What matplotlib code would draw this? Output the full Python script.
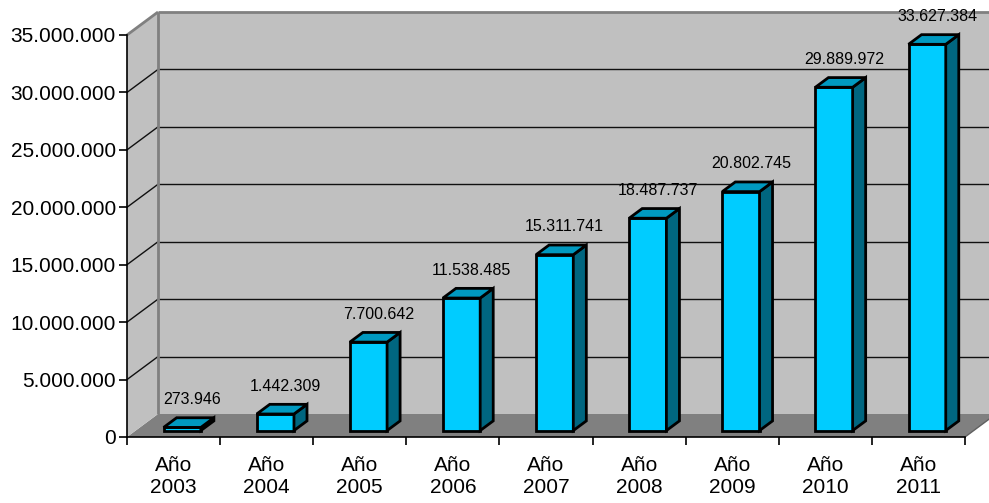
import matplotlib
matplotlib.use("agg")
import matplotlib.pyplot as plt
from matplotlib.patches import Polygon
from matplotlib.ticker import FuncFormatter

years = ["2003", "2004", "2005", "2006", "2007", "2008", "2009", "2010", "2011"]
values = [273946, 1442309, 7700642, 11538485, 15311741, 18487737, 20802745, 29889972, 33627384]
y_ticks = [0, 5000000, 10000000, 15000000, 20000000, 25000000, 30000000, 35000000]

def fmt(v, pos=None):
    return "{:,.0f}".format(v).replace(",", ".")

plt.rcParams['font.family'] = ['Liberation Sans', 'DejaVu Sans']

fig = plt.figure(figsize=(9.89, 5.03), dpi=100)
ax = fig.add_axes([127/989, 66/503, 838/989, 402/503])
ymax = y_ticks[-1]
n = len(years)
ax.set_xlim(0, n)
ax.set_ylim(0, ymax)
ax.patch.set_visible(False)

# depth of the 3d box in data units
DX = 0.333
DY = ymax * 23 / 402.0

def poly(pts, fc, ec="none", lw=0, z=1):
    ax.add_patch(Polygon(pts, closed=True, facecolor=fc, edgecolor=ec,
                         linewidth=lw, clip_on=False, zorder=z, joinstyle="miter"))

# walls and floor
poly([(0, 0), (n, 0), (n + DX, DY), (DX, DY)], "#808080", z=0)
poly([(DX, DY), (n + DX, DY), (n + DX, ymax + DY), (DX, ymax + DY)], "#c0c0c0", z=0)
poly([(0, 0), (DX, DY), (DX, ymax + DY), (0, ymax)], "#c0c0c0", z=0)

for y in y_ticks[1:-1]:
    ax.plot([DX, n + DX], [y + DY, y + DY], color="#101010", lw=1, clip_on=False, zorder=0.5)
    ax.plot([0, DX], [y, y + DY], color="#101010", lw=1, clip_on=False, zorder=0.5)

wall = dict(color="#808080", lw=2, clip_on=False, zorder=0.6, solid_capstyle="butt")
ax.plot([0, DX], [ymax, ymax + DY], **wall)
ax.plot([DX, n + DX], [ymax + DY, ymax + DY], **wall)
ax.plot([DX, DX], [DY, ymax + DY], **wall)
ax.plot([n, n + DX], [0, DY], color="#606060", lw=1, clip_on=False, zorder=0.6)

# bars
w = 0.4
t0, t1 = 0.28, 0.70
dt = t1 - t0
for i, v in enumerate(values):
    xl = i + 0.5 - w / 2 + t0 * DX
    xr = xl + w
    yb = t0 * DY
    yt = v + t0 * DY
    ox, oy = dt * DX, dt * DY
    poly([(xl, yb), (xr, yb), (xr, yt), (xl, yt)], "#00ccff", "black", 2, z=3)
    poly([(xr, yb), (xr + ox, yb + oy), (xr + ox, yt + oy), (xr, yt)], "#006680", "black", 2, z=3)
    poly([(xl, yt), (xr, yt), (xr + ox, yt + oy), (xl + ox, yt + oy)], "#0099c0", "black", 2, z=3)
    ax.annotate(fmt(v), (i + 0.5 + 0.2, v + t1 * DY), xytext=(0, 13),
                textcoords="offset points", ha="center", va="center",
                fontsize=11.5, color="black", zorder=4, annotation_clip=False)

for s in ["top", "right"]:
    ax.spines[s].set_visible(False)
for s in ["left", "bottom"]:
    ax.spines[s].set_color("black")
    ax.spines[s].set_linewidth(1.2)
    ax.spines[s].set_zorder(5)

ax.set_yticks(y_ticks)
ax.yaxis.set_major_formatter(FuncFormatter(fmt))
ax.tick_params(axis="y", direction="out", length=6, width=1.2, pad=2, labelsize=15)

ax.set_xticks(range(n + 1))
ax.set_xticklabels([])
ax.set_xticks([i + 0.5 for i in range(n)], minor=True)
ax.set_xticklabels(["Año\n" + y for y in years], minor=True)
ax.tick_params(axis="x", which="major", direction="out", length=6, width=1.2)
ax.tick_params(axis="x", which="minor", length=0, pad=14, labelsize=15)

plt.savefig("out.png", dpi=100)
plt.close(fig)
